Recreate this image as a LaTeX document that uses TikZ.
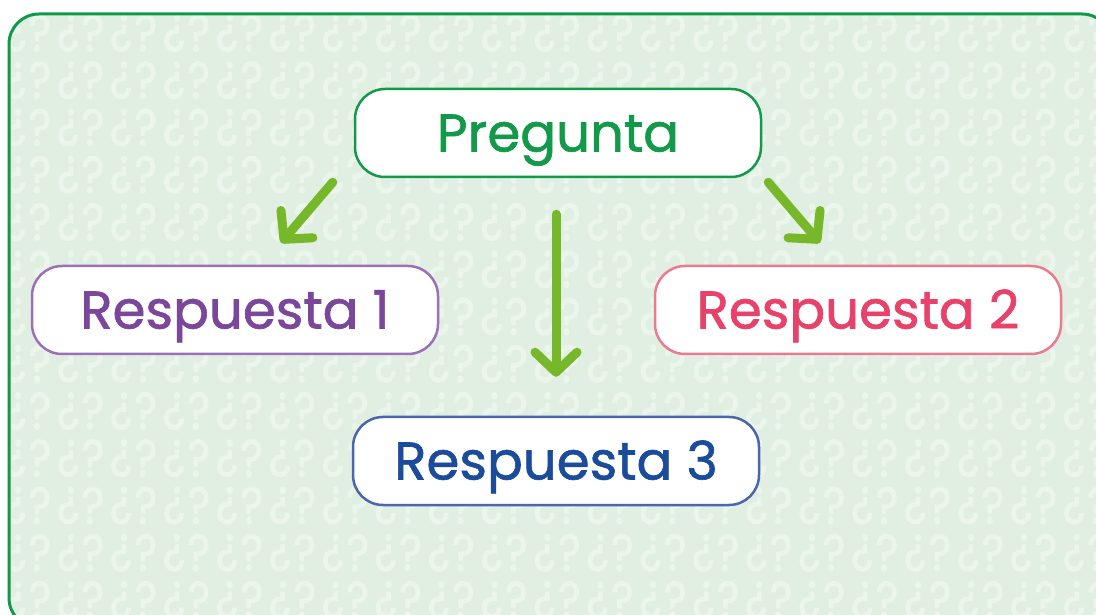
\documentclass[tikz,border=0pt]{standalone}
\usepackage{fontspec}
\setmainfont{Poppins}
\newfontfamily\letra{Poppins}[FakeBold=1.2]
\newfontfamily\signos{Poppins}[FakeStretch=0.82, FakeBold=2]
\usetikzlibrary{
  arrows.meta,
  positioning,
  calc
}
\definecolor{fondo}{HTML}{E1EFE3}
\definecolor{patron}{HTML}{EBF5EC}
\definecolor{marco}{HTML}{0E9A48}
\definecolor{verde}{HTML}{12994A}
\definecolor{morado}{HTML}{7A479A}
\definecolor{moradoborde}{HTML}{9C6FB7}
\definecolor{rosa}{HTML}{E8426A}
\definecolor{rosaborde}{HTML}{EC7A8E}
\definecolor{azul}{HTML}{1B4B9B}
\definecolor{azulborde}{HTML}{4A66AD}
\definecolor{flechaverde}{HTML}{76B82A}

\begin{document}
\begin{tikzpicture}[
    x=1pt, y=1pt,
    caja/.style={
        fill=white,
        line width=2.5pt,
        rounded corners=30pt,
        minimum width=406pt,
        minimum height=88pt,
        inner sep=0pt,
        text height=37pt,
        text depth=0pt,
        font=\letra\fontsize{53}{60}\selectfont
    },
    pregunta/.style={caja, draw=verde, text=verde},
    respuesta/.style={caja, draw=#1borde, text=#1},
    signo/.style={
        text=patron,
        inner sep=0pt,
        font=\signos\fontsize{52}{56}\selectfont
    },
    flecha/.style={
        -{Straight Barb[round, length=20pt, width=42pt]},
        line width=9pt,
        line cap=round,
        flechaverde
    }
]

\useasboundingbox (0,0) rectangle (1096,614);
\clip (0,0) rectangle (1096,614);

% ============================================================
% FONDO
% ============================================================

\fill[fondo, rounded corners=30pt] (9,600) rectangle (1112,-14);
\begin{scope}
    \clip[rounded corners=30pt] (9,600) rectangle (1112,-14);
    \foreach \fila in {0,...,12} {
        \foreach \col in {0,...,20} {
            \node[signo] (a\fila-\col) at (15+52.94*\col, 581-47.25*\fila) {¿};
            \node[signo] (b\fila-\col) at (40+52.94*\col, 581-47.25*\fila) {?};
        }
    }
\end{scope}
\draw[marco, line width=3pt, rounded corners=30pt] (9,600) rectangle (1112,-14);

% ============================================================
% NODOS
% ============================================================

\node[pregunta] (preg) at (558,481) {Pregunta};
\node[respuesta=morado] (resp1) at (235,304) {Respuesta 1};
\node[respuesta=rosa] (resp2) at (858,304) {Respuesta 2};
\node[respuesta=azul] (resp3) at (556,153) {Respuesta 3};

% ============================================================
% FLECHAS
% ============================================================

\draw[flecha] ([shift={(-21,-4)}]preg.south west) -- ([shift={(46,22)}]resp1.north);
\draw[flecha] ([shift={(-2,-36)}]preg.south) -- ([shift={(0,39)}]resp3.north);
\draw[flecha] ([shift={(6,-4)}]preg.south east) -- ([shift={(-38,22)}]resp2.north);

\end{tikzpicture}
\end{document}
